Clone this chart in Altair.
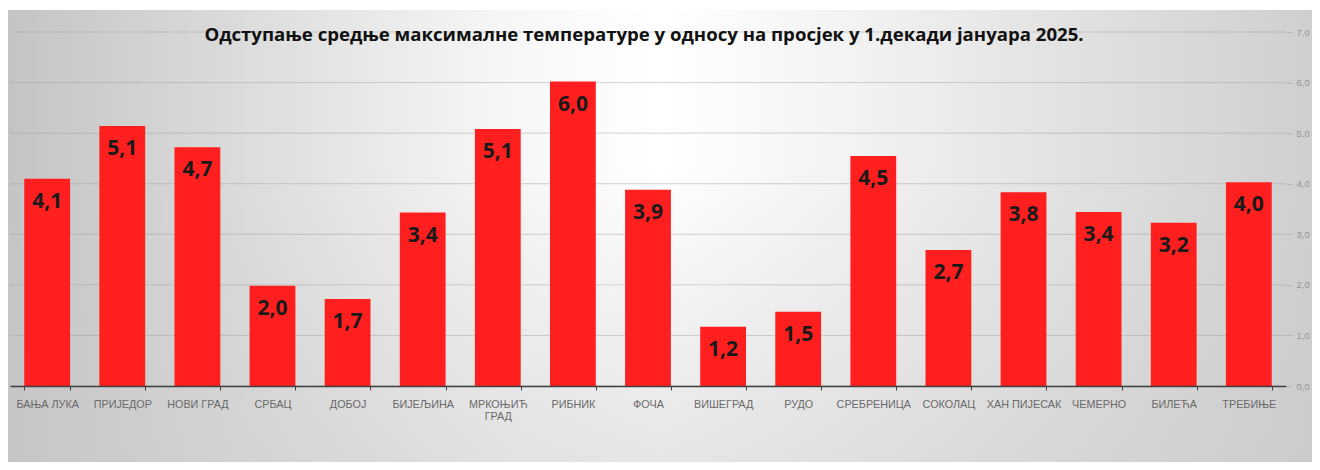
import altair as alt
import pandas as pd

stations = ["БАЊА ЛУКА", "ПРИЈЕДОР", "НОВИ ГРАД", "СРБАЦ", "ДОБОЈ", "БИЈЕЉИНА",
            "МРКОЊИЋ ГРАД", "РИБНИК", "ФОЧА", "ВИШЕГРАД", "РУДО", "СРЕБРЕНИЦА",
            "СОКОЛАЦ", "ХАН ПИЈЕСАК", "ЧЕМЕРНО", "БИЛЕЋА", "ТРЕБИЊЕ"]
values = [4.1, 5.14, 4.72, 1.98, 1.72, 3.43, 5.08, 6.02, 3.88, 1.17, 1.47, 4.55,
          2.69, 3.83, 3.44, 3.23, 4.03]
y_ticks = [0, 1, 2, 3, 4, 5, 6, 7]
title_text = "Одступање средње максималне температуре у односу на просјек у 1.декади јануара 2025."

W, H = 1276, 354
PAD = {"left": 2, "top": 24, "right": 26, "bottom": 76}

df = pd.DataFrame({"station": stations, "value": values})
df["label"] = df["value"].map(lambda v: f"{v:.1f}".replace(".", ","))
grid_df = pd.DataFrame({"v": y_ticks})

bg_h = alt.LinearGradient(
    gradient="linear", x1=0, y1=0, x2=1, y2=0,
    stops=[alt.GradientStop(color="#c4c4c4", offset=0),
           alt.GradientStop(color="#f6f6f6", offset=0.38),
           alt.GradientStop(color="#ffffff", offset=0.5),
           alt.GradientStop(color="#f2f2f2", offset=0.65),
           alt.GradientStop(color="#cfcfcf", offset=1)])
bg_v = alt.LinearGradient(
    gradient="linear", x1=0, y1=0, x2=0, y2=1,
    stops=[alt.GradientStop(color="rgba(200,200,200,0)", offset=0),
           alt.GradientStop(color="rgba(200,200,200,0)", offset=0.35),
           alt.GradientStop(color="rgba(200,200,200,0.45)", offset=1)])

one = pd.DataFrame({"t": [title_text]})

bg1 = alt.Chart(one).mark_rect(fill=bg_h, clip=False).encode(
    x=alt.value(-PAD["left"]), x2=alt.value(W + PAD["right"]),
    y=alt.value(-PAD["top"] + 2), y2=alt.value(H + PAD["bottom"]))
bg2 = alt.Chart(one).mark_rect(fill=bg_v, clip=False).encode(
    x=alt.value(-PAD["left"]), x2=alt.value(W + PAD["right"]),
    y=alt.value(-PAD["top"] + 2), y2=alt.value(H + PAD["bottom"]))

y_scale = alt.Scale(domain=[0, 7], nice=False)

grid = alt.Chart(grid_df).mark_rule(color="#a0a0a0", opacity=0.45, strokeWidth=1).encode(
    y=alt.Y("v:Q", scale=y_scale), x=alt.value(0), x2=alt.value(W))

x_enc = alt.X("station:N", sort=stations,
              scale=alt.Scale(paddingInner=0.39, paddingOuter=0.19),
              axis=alt.Axis(title=None, labelAngle=0, labelFont="Liberation Sans",
                            labelFontSize=10.8, labelColor="#6a6a6a", labelPadding=8,
                            labelLimit=90, tickBand="extent", tickSize=4, zindex=2,
                            tickColor="#404040", domainColor="#404040", domainWidth=1.5,
                            labelExpr="datum.label == 'МРКОЊИЋ ГРАД' ? ['МРКОЊИЋ', 'ГРАД'] : datum.label"))
y_enc = alt.Y("value:Q", scale=y_scale,
              axis=alt.Axis(title=None, orient="right", values=y_ticks, domain=False,
                            grid=False, zindex=2,
                            labelExpr="replace(format(datum.value, '.1f'), '.', ',')",
                            labelFont="Liberation Sans", labelFontSize=9.5,
                            labelColor="#959595", tickSize=6, tickColor="#b8b8b8",
                            labelPadding=4))

bars = alt.Chart(df).mark_bar(color="#ff1f1f").encode(x=x_enc, y=y_enc)
labels = alt.Chart(df).mark_text(baseline="middle", dy=23, fontSize=21, fontWeight="bold",
                                 font="Open Sans", color="#1a1a1a").encode(
    x=alt.X("station:N", sort=stations), y="value:Q", text="label:N")

title = alt.Chart(one).mark_text(fontSize=18.6, fontWeight="bold", font="Open Sans",
                                 color="#111111", baseline="middle", align="center").encode(
    x=alt.value(W / 2 - 4), y=alt.value(3), text="t:N")

chart = alt.layer(bg1, bg2, grid, bars, labels, title).properties(
    width=W, height=H, padding=PAD,
    autosize=alt.AutoSizeParams(type="none"),
).configure_view(stroke=None).configure(background="white")

chart.save("out.html", embed_options={"renderer": "svg", "actions": False})
